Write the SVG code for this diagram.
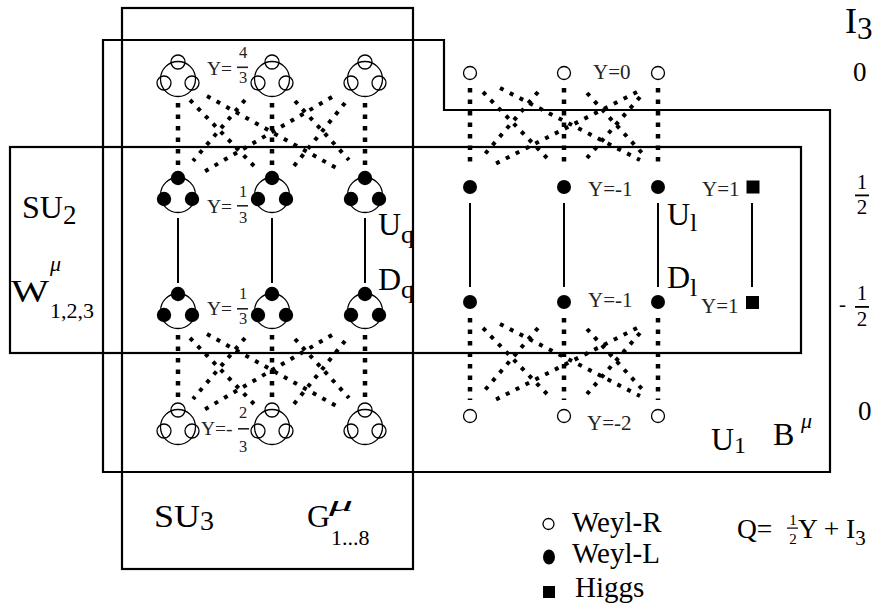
<svg xmlns="http://www.w3.org/2000/svg" xmlns:xlink="http://www.w3.org/1999/xlink" width="879" height="606" viewBox="0 0 879 606">
<style>
.box{fill:none;stroke:#000;stroke-width:2.2}
.ring{fill:none;stroke:#000;stroke-width:1.3}
.dotv{fill:none;stroke:#000;stroke-width:4.5;stroke-dasharray:4.5 7}
.dotd{fill:none;stroke:#000;stroke-width:4;stroke-dasharray:4 7}
.solid{stroke:#000;stroke-width:2}
text{font-family:"Liberation Serif","Times New Roman",serif;fill:#000}
.big{font-size:32px}
.sm{font-size:19.5px;fill:#222}
.sl{font-size:21px;fill:#222}
.fr{font-size:16.5px;fill:#222;text-anchor:middle}
.leg{font-size:29px}
.mu{font-size:22px;font-style:italic}
</style>
<defs>
<g id="tO">
<circle class="ring" r="17.5"/>
<circle class="ring" cy="-17" r="7"/>
<circle class="ring" cx="-14" cy="4" r="7"/>
<circle class="ring" cx="14" cy="4" r="7"/>
</g>
<g id="tF">
<circle class="ring" r="17.5"/>
<circle cy="-17" r="7.2"/>
<circle cx="-14" cy="4" r="7.2"/>
<circle cx="14" cy="4" r="7.2"/>
</g>
<g id="qdiag" class="dotd">
<path d="M190,100 L254,166"/>
<path d="M207,96 L340,170"/>
<path d="M245,100 L193,161"/>
<path d="M295,101 L349,160"/>
<path d="M332,97 L202,173"/>
<path d="M345,103 L294,166"/>
</g>
<g id="ldiag" class="dotd">
<path d="M483,92 L547,158"/>
<path d="M500,88 L640,160"/>
<path d="M538,92 L485,154"/>
<path d="M587,93 L642,153"/>
<path d="M637,92 L493,165"/>
<path d="M640,97 L587,158"/>
</g>
</defs>

<g id="group-boxes">
<rect id="box-su3" class="box" x="122" y="8" width="291" height="561"/>
<path id="box-u1" class="box" d="M103,40 H444 V110 H830 V472 H103 Z"/>
<rect id="box-su2" class="box" x="10" y="147" width="791" height="206"/>
</g>

<g id="connectors">
<g class="dotv">
<path d="M178,103 V166 M272,103 V166 M365,103 V166"/>
<path d="M178,335 V398 M272,335 V398 M365,335 V398"/>
<path d="M470,88 V168 M564,88 V168 M658,88 V168"/>
<path d="M470,318 V400 M564,318 V400 M658,318 V400"/>
</g>
<use xlink:href="#qdiag"/>
<use xlink:href="#qdiag" transform="translate(0,238)"/>
<use xlink:href="#ldiag"/>
<use xlink:href="#ldiag" transform="translate(0,236)"/>
<g class="solid">
<path d="M178,218 V283 M272,218 V283 M365,218 V283"/>
<path d="M470,203 V287 M564,203 V287 M658,203 V287 M752,203 V287"/>
</g>
</g>

<g id="quark-R-up">
<use xlink:href="#tO" x="178" y="79"/>
<use xlink:href="#tO" x="272" y="79"/>
<use xlink:href="#tO" x="365" y="79"/>
<text class="sm" x="207" y="75">Y=</text>
<text class="fr" x="243" y="58">4</text>
<rect x="237" y="66.5" width="11" height="1.6" fill="#222"/>
<text class="fr" x="243" y="83">3</text>
</g>
<g id="quark-L-up">
<use xlink:href="#tF" x="178" y="195"/>
<use xlink:href="#tF" x="272" y="195"/>
<use xlink:href="#tF" x="365" y="195"/>
<text class="sm" x="207" y="213">Y=</text>
<text class="fr" x="243" y="197">1</text>
<rect x="237" y="205" width="11" height="1.6" fill="#222"/>
<text class="fr" x="243" y="223">3</text>
</g>
<g id="quark-L-down">
<use xlink:href="#tF" x="178" y="311"/>
<use xlink:href="#tF" x="272" y="311"/>
<use xlink:href="#tF" x="365" y="311"/>
<text class="sm" x="207" y="315">Y=</text>
<text class="fr" x="243" y="299">1</text>
<rect x="237" y="308" width="11" height="1.6" fill="#222"/>
<text class="fr" x="243" y="324">3</text>
</g>
<g id="quark-R-down">
<use xlink:href="#tO" x="178" y="427"/>
<use xlink:href="#tO" x="272" y="427"/>
<use xlink:href="#tO" x="365" y="427"/>
<text class="sm" x="201" y="435">Y=-</text>
<text class="fr" x="243" y="418">2</text>
<rect x="238" y="428" width="11" height="1.6" fill="#222"/>
<text class="fr" x="243" y="452">3</text>
</g>
<g id="quark-labels">
<text class="big" x="378" y="235" font-size="30">U<tspan font-size="26" dy="8">q</tspan></text>
<text class="big" x="378" y="290" font-size="30">D<tspan font-size="26" dy="8">q</tspan></text>
</g>

<g id="lepton-R-up">
<circle class="ring" cx="470" cy="73" r="6.5"/>
<circle class="ring" cx="564" cy="73" r="6.5"/>
<circle class="ring" cx="658" cy="73" r="6.5"/>
<text class="sl" x="593" y="79">Y=0</text>
</g>
<g id="lepton-L-up">
<circle cx="470" cy="187" r="7"/>
<circle cx="564" cy="187" r="7"/>
<circle cx="658" cy="187" r="7"/>
<text class="sl" x="588" y="196">Y=-1</text>
<text class="big" x="667" y="225" font-size="30">U<tspan font-size="26" dy="6">l</tspan></text>
</g>
<g id="lepton-L-down">
<circle cx="470" cy="302" r="7"/>
<circle cx="564" cy="302" r="7"/>
<circle cx="658" cy="302" r="7"/>
<text class="sl" x="588" y="307">Y=-1</text>
<text class="big" x="667" y="288" font-size="30">D<tspan font-size="26" dy="8">l</tspan></text>
</g>
<g id="lepton-R-down">
<circle class="ring" cx="470" cy="416" r="6.5"/>
<circle class="ring" cx="564" cy="416" r="6.5"/>
<circle class="ring" cx="658" cy="416" r="6.5"/>
<text class="sl" x="587" y="430">Y=-2</text>
</g>
<g id="higgs-up">
<rect x="746.5" y="180.5" width="13" height="13"/>
<text class="sl" x="702" y="196">Y=1</text>
</g>
<g id="higgs-down">
<rect x="746" y="296" width="13" height="13"/>
<text class="sl" x="701" y="313">Y=1</text>
</g>

<g id="gauge-labels">
<text class="big" x="22" y="218" font-size="33">SU<tspan font-size="27" dy="6">2</tspan></text>
<text class="big" x="11" y="302" font-size="34" textLength="38" lengthAdjust="spacingAndGlyphs">W</text>
<text class="mu" x="50" y="271">μ</text>
<text x="50" y="318" font-size="22">1,2,3</text>
<text class="big" x="154" y="527" font-size="34" textLength="46" lengthAdjust="spacingAndGlyphs">SU</text>
<text x="200" y="530" font-size="28">3</text>
<text class="big" x="307" y="527">G</text>
<text class="mu" x="329" y="511" textLength="24" lengthAdjust="spacingAndGlyphs">μ</text>
<text x="331" y="545" font-size="22">1...8</text>
<text class="big" x="711" y="450">U<tspan font-size="24" dy="3">1</tspan></text>
<text class="big" x="773" y="445">B</text>
<text class="mu" x="801" y="428">μ</text>
</g>

<g id="i3-axis">
<text x="845" y="33" font-size="36">I<tspan font-size="31" dy="6">3</tspan></text>
<text x="853" y="81" font-size="27">0</text>
<text x="862" y="189" font-size="21" text-anchor="middle">1</text>
<rect x="855" y="194.5" width="14" height="1.8"/>
<text x="862" y="214" font-size="21" text-anchor="middle">2</text>
<text x="839" y="311" font-size="21">-</text>
<text x="862" y="300" font-size="21" text-anchor="middle">1</text>
<rect x="855" y="306" width="14" height="1.8"/>
<text x="862" y="326" font-size="21" text-anchor="middle">2</text>
<text x="858" y="420" font-size="27">0</text>
</g>

<g id="legend">
<circle class="ring" cx="548.5" cy="524" r="5.5"/>
<text class="leg" x="572" y="532">Weyl-R</text>
<ellipse cx="549" cy="557" rx="6" ry="7.5"/>
<text class="leg" x="572" y="563">Weyl-L</text>
<rect x="543" y="586" width="12" height="12"/>
<text class="leg" x="575" y="597">Higgs</text>
</g>
<g id="formula">
<text x="737" y="538" font-size="27.5">Q=</text>
<text x="793" y="525" font-size="15" text-anchor="middle">1</text>
<rect x="787" y="527.5" width="11" height="1.2"/>
<text x="793" y="544" font-size="15" text-anchor="middle">2</text>
<text x="798" y="538" font-size="27.5">Y + I<tspan font-size="21" dy="7">3</tspan></text>
</g>
</svg>
